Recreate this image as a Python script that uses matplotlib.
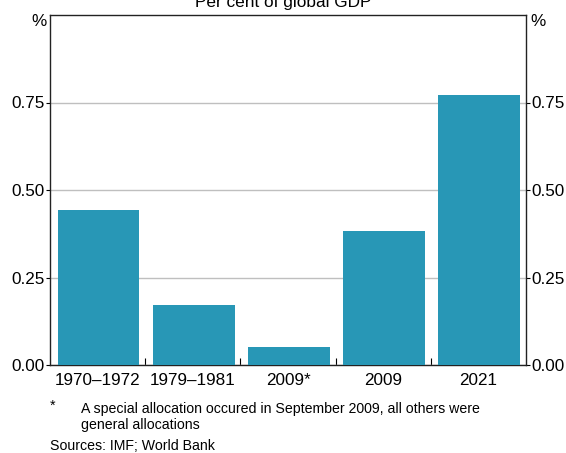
import matplotlib
matplotlib.use("Agg")
import matplotlib.pyplot as plt
import numpy as np

plt.rcParams['font.family'] = ['Liberation Sans', 'DejaVu Sans']

categories = ["1970–1972", "1979–1981", "2009*", "2009", "2021"]
values = [0.443, 0.171, 0.051, 0.383, 0.771]
yticks = [0.0, 0.25, 0.5, 0.75]
ytick_labels = ["0.00", "0.25", "0.50", "0.75"]

W, H = 566, 453
FS = 12.3
fig = plt.figure(figsize=(W / 100, H / 100), dpi=100)
ax = fig.add_axes([50 / W, 1 - 365 / H, 476 / W, 350 / H])

x = np.arange(len(categories))
ax.bar(x + 0.01, values, width=0.86, color='#2897B6', zorder=3)
ax.set_xlim(-0.5, len(categories) - 0.5)
ax.set_ylim(0, 1.0)

ax.set_yticks(yticks)
ax.set_yticklabels(ytick_labels)
ax.yaxis.grid(True, color='#BFBFBF', linewidth=1, zorder=0)
ax.tick_params(axis='y', which='major', direction='out', length=3, labelsize=FS,
               left=True, right=True, labelleft=True, labelright=True, pad=1, width=0.8)

ax.set_xticks(x)
ax.set_xticklabels(categories)
ax.tick_params(axis='x', which='major', length=0, labelsize=FS, pad=6)
ax.set_xticks(x[:-1] + 0.5, minor=True)
ax.tick_params(axis='x', which='minor', direction='in', length=5, width=0.8)

for s in ax.spines.values():
    s.set_linewidth(1.0)
    s.set_color('#222222')

fig.text(47 / W, 1 - 22 / H, "%", ha='right', va='center', fontsize=FS)
fig.text(530 / W, 1 - 22 / H, "%", ha='left', va='center', fontsize=FS)
fig.text(0.5, 1 - 7 / H, "Per cent of global GDP", ha='center', va='baseline', fontsize=12.4)

FN = 10.2
fig.text(50 / W, 1 - 406 / H, "*", ha='left', va='center', fontsize=FN)
fig.text(81 / W, 1 - 409 / H, "A special allocation occured in September 2009, all others were",
         ha='left', va='center', fontsize=FN)
fig.text(81 / W, 1 - 425 / H, "general allocations", ha='left', va='center', fontsize=FN)
fig.text(50 / W, 1 - 446 / H, "Sources: IMF; World Bank", ha='left', va='center', fontsize=FN)

fig.savefig("out.png", dpi=100)
